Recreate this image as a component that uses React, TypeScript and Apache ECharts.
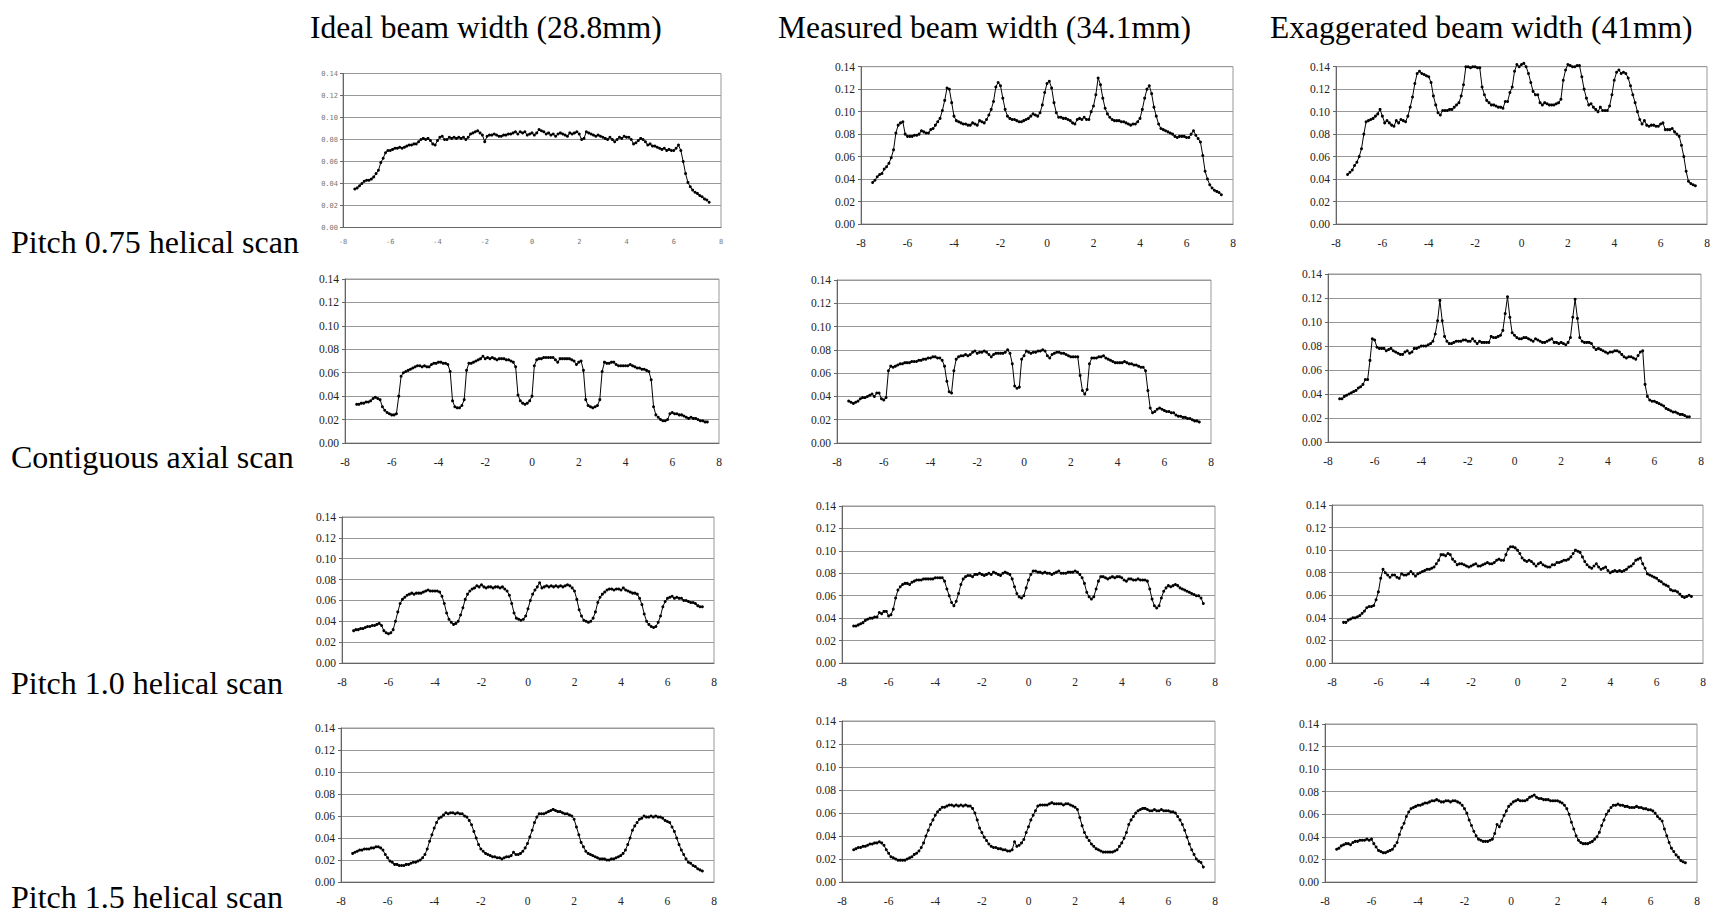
import React, { useEffect, useRef } from "react";
import * as echarts from "echarts";

// sample positions along the z axis (cm)
const XS = [
  -7.5, -7.4, -7.3, -7.2, -7.1, -7, -6.9, -6.8, -6.7, -6.6,
  -6.5, -6.4, -6.3, -6.2, -6.1, -6, -5.9, -5.8, -5.7, -5.6,
  -5.5, -5.4, -5.3, -5.2, -5.1, -5, -4.9, -4.8, -4.7, -4.6,
  -4.5, -4.4, -4.3, -4.2, -4.1, -4, -3.9, -3.8, -3.7, -3.6,
  -3.5, -3.4, -3.3, -3.2, -3.1, -3, -2.9, -2.8, -2.7, -2.6,
  -2.5, -2.4, -2.3, -2.2, -2.1, -2, -1.9, -1.8, -1.7, -1.6,
  -1.5, -1.4, -1.3, -1.2, -1.1, -1, -0.9, -0.8, -0.7, -0.6,
  -0.5, -0.4, -0.3, -0.2, -0.1, 0, 0.1, 0.2, 0.3, 0.4,
  0.5, 0.6, 0.7, 0.8, 0.9, 1, 1.1, 1.2, 1.3, 1.4,
  1.5, 1.6, 1.7, 1.8, 1.9, 2, 2.1, 2.2, 2.3, 2.4,
  2.5, 2.6, 2.7, 2.8, 2.9, 3, 3.1, 3.2, 3.3, 3.4,
  3.5, 3.6, 3.7, 3.8, 3.9, 4, 4.1, 4.2, 4.3, 4.4,
  4.5, 4.6, 4.7, 4.8, 4.9, 5, 5.1, 5.2, 5.3, 5.4,
  5.5, 5.6, 5.7, 5.8, 5.9, 6, 6.1, 6.2, 6.3, 6.4,
  6.5, 6.6, 6.7, 6.8, 6.9, 7, 7.1, 7.2, 7.3, 7.4,
  7.5,
];

const COL_TITLES = [
  "Ideal beam width (28.8mm)",
  "Measured beam width (34.1mm)",
  "Exaggerated beam width (41mm)",
];
const ROW_TITLES = [
  "Pitch 0.75 helical scan",
  "Contiguous axial scan",
  "Pitch 1.0 helical scan",
  "Pitch 1.5 helical scan",
];

// ---- Pitch 0.75 helical ----
const IDEAL_P075 = [
  .035, .036, .038, .040, .042, .043, .043, .044, .046, .049,
  .052, .059, .063, .068, .070, .070, .071, .072, .072, .073,
  .072, .073, .074, .075, .075, .076, .076, .078, .080, .081,
  .080, .081, .079, .076, .075, .079, .082, .083, .080, .080,
  .082, .081, .082, .081, .082, .081, .082, .080, .082, .085,
  .086, .087, .088, .086, .084, .078, .083, .084, .084, .085,
  .084, .083, .083, .084, .084, .085, .085, .086, .087, .085,
  .087, .086, .087, .084, .085, .086, .084, .086, .089, .088,
  .087, .085, .086, .084, .085, .083, .085, .086, .085, .084,
  .083, .086, .085, .086, .087, .085, .080, .081, .087, .086,
  .085, .084, .083, .084, .083, .082, .081, .080, .082, .080,
  .078, .080, .082, .081, .083, .082, .082, .080, .076, .077,
  .079, .081, .080, .078, .075, .076, .074, .074, .073, .072,
  .071, .072, .070, .071, .070, .070, .072, .075, .070, .060,
  .049, .041, .037, .034, .032, .031, .029, .028, .026, .025,
  .023,
];
const MEAS_P075 = [
  .037, .039, .042, .044, .045, .049, .051, .054, .059, .066,
  .081, .088, .090, .091, .080, .078, .078, .078, .079, .079,
  .080, .083, .082, .081, .081, .084, .085, .088, .091, .094,
  .101, .110, .121, .120, .108, .096, .092, .091, .090, .089,
  .089, .088, .088, .090, .089, .088, .092, .091, .090, .093,
  .097, .102, .109, .122, .126, .123, .112, .102, .096, .094,
  .093, .093, .092, .091, .091, .092, .093, .094, .096, .098,
  .097, .096, .099, .106, .117, .125, .127, .121, .108, .099,
  .095, .095, .094, .094, .093, .092, .090, .089, .093, .094,
  .093, .095, .093, .093, .100, .105, .115, .130, .124, .112,
  .103, .098, .095, .093, .092, .092, .092, .091, .091, .090,
  .089, .088, .089, .089, .091, .094, .102, .112, .120, .123,
  .116, .104, .096, .089, .085, .084, .083, .082, .081, .080,
  .078, .077, .078, .078, .078, .077, .077, .080, .083, .079,
  .076, .073, .061, .047, .040, .035, .032, .030, .029, .028,
  .026,
];
const EXAG_P075 = [
  .044, .046, .048, .052, .055, .060, .067, .080, .091, .092,
  .093, .094, .096, .098, .102, .096, .090, .092, .090, .088,
  .087, .092, .090, .093, .092, .091, .096, .104, .113, .125,
  .134, .136, .134, .133, .132, .131, .126, .114, .106, .099,
  .097, .101, .101, .101, .102, .102, .104, .106, .108, .114,
  .124, .140, .140, .139, .140, .140, .139, .139, .122, .115,
  .110, .108, .106, .106, .105, .104, .104, .103, .109, .109,
  .117, .122, .136, .142, .140, .142, .143, .140, .134, .126,
  .118, .115, .115, .108, .106, .108, .107, .106, .106, .106,
  .107, .108, .111, .128, .137, .142, .141, .140, .140, .141,
  .141, .131, .120, .112, .106, .107, .104, .102, .100, .104,
  .101, .101, .101, .105, .115, .128, .135, .137, .134, .135,
  .134, .130, .123, .115, .108, .100, .093, .089, .092, .088,
  .087, .088, .088, .087, .087, .089, .090, .084, .084, .084,
  .085, .082, .080, .078, .070, .060, .047, .038, .036, .035,
  .034,
];

// ---- Contiguous axial ----
const IDEAL_AX = [
  .033, .033, .034, .034, .035, .035, .036, .038, .039, .038,
  .037, .031, .028, .026, .025, .024, .024, .025, .040, .057,
  .060, .061, .062, .063, .064, .065, .066, .066, .065, .066,
  .065, .065, .067, .068, .068, .069, .069, .068, .068, .067,
  .061, .036, .031, .030, .030, .032, .037, .062, .068, .068,
  .069, .070, .071, .072, .074, .072, .073, .072, .073, .072,
  .071, .072, .072, .072, .071, .071, .070, .069, .065, .041,
  .036, .034, .033, .034, .036, .040, .066, .071, .072, .072,
  .073, .073, .073, .073, .073, .071, .069, .072, .072, .072,
  .072, .072, .071, .070, .067, .069, .070, .062, .037, .032,
  .031, .030, .031, .032, .037, .061, .069, .068, .068, .069,
  .069, .067, .066, .066, .066, .066, .066, .067, .066, .065,
  .064, .064, .063, .063, .062, .061, .054, .031, .024, .022,
  .020, .019, .019, .020, .025, .026, .025, .025, .024, .024,
  .023, .022, .021, .022, .021, .021, .020, .019, .019, .018,
  .018,
];
const MEAS_AX = [
  .036, .035, .034, .035, .036, .038, .039, .039, .040, .041,
  .042, .040, .043, .043, .038, .037, .039, .062, .066, .065,
  .066, .067, .068, .068, .069, .069, .069, .070, .070, .070,
  .071, .071, .072, .072, .073, .073, .074, .074, .073, .073,
  .071, .066, .053, .044, .043, .062, .072, .074, .075, .075,
  .076, .075, .076, .078, .079, .077, .078, .078, .079, .078,
  .076, .074, .076, .077, .077, .077, .077, .078, .080, .077,
  .068, .049, .047, .048, .072, .075, .079, .078, .077, .078,
  .078, .079, .079, .080, .079, .075, .073, .076, .077, .078,
  .078, .077, .077, .076, .075, .074, .074, .074, .074, .058,
  .045, .042, .046, .068, .073, .073, .073, .074, .074, .075,
  .073, .072, .071, .070, .069, .069, .069, .069, .070, .069,
  .068, .068, .067, .067, .066, .065, .065, .062, .045, .030,
  .026, .027, .029, .030, .029, .028, .027, .027, .026, .026,
  .024, .023, .023, .022, .022, .021, .021, .020, .019, .019,
  .018,
];
const EXAG_AX = [
  .036, .036, .038, .039, .040, .041, .042, .043, .045, .046,
  .048, .052, .052, .068, .086, .085, .079, .078, .078, .078,
  .076, .077, .078, .076, .075, .074, .073, .073, .075, .076,
  .074, .075, .078, .078, .079, .080, .080, .080, .081, .082,
  .084, .090, .101, .118, .101, .088, .084, .082, .082, .083,
  .084, .084, .084, .085, .085, .084, .084, .086, .084, .082,
  .084, .083, .083, .083, .083, .088, .087, .087, .088, .089,
  .093, .107, .121, .104, .091, .089, .087, .086, .086, .087,
  .087, .086, .085, .084, .086, .085, .084, .083, .083, .084,
  .085, .086, .083, .083, .082, .083, .082, .081, .083, .087,
  .104, .119, .103, .087, .084, .083, .083, .083, .082, .079,
  .077, .078, .077, .076, .075, .074, .075, .075, .076, .076,
  .075, .073, .071, .070, .071, .071, .070, .069, .072, .075,
  .076, .048, .038, .035, .034, .034, .033, .032, .031, .030,
  .028, .027, .026, .025, .025, .024, .023, .023, .022, .021,
  .021,
];

// ---- Pitch 1.0 helical ----
const IDEAL_P10 = [
  .031, .032, .032, .033, .033, .034, .035, .035, .036, .036,
  .037, .038, .036, .031, .029, .028, .029, .032, .040, .049,
  .057, .061, .063, .065, .066, .067, .066, .067, .067, .067,
  .068, .069, .070, .069, .069, .069, .069, .068, .064, .057,
  .048, .042, .039, .037, .038, .040, .046, .053, .061, .066,
  .069, .071, .072, .074, .073, .075, .073, .072, .073, .073,
  .072, .073, .073, .072, .073, .071, .069, .065, .057, .048,
  .043, .042, .041, .042, .045, .052, .060, .066, .070, .073,
  .077, .072, .073, .074, .073, .074, .073, .074, .073, .074,
  .073, .074, .075, .074, .072, .069, .061, .051, .045, .041,
  .040, .039, .040, .043, .049, .058, .063, .066, .068, .070,
  .071, .071, .070, .071, .071, .070, .072, .070, .069, .068,
  .067, .067, .066, .062, .056, .047, .040, .037, .035, .034,
  .035, .039, .045, .054, .059, .062, .063, .064, .062, .063,
  .062, .062, .060, .060, .059, .058, .058, .057, .055, .054,
  .054,
];
const MEAS_P10 = [
  .033, .033, .034, .035, .036, .038, .039, .040, .040, .041,
  .041, .045, .044, .046, .046, .042, .043, .048, .058, .065,
  .068, .070, .071, .071, .070, .072, .073, .074, .074, .074,
  .075, .075, .075, .075, .075, .076, .076, .076, .076, .073,
  .066, .060, .054, .051, .055, .062, .070, .075, .077, .078,
  .078, .077, .079, .079, .080, .079, .078, .079, .080, .079,
  .081, .080, .079, .078, .080, .081, .080, .079, .075, .068,
  .062, .059, .058, .060, .067, .074, .079, .082, .082, .081,
  .081, .080, .081, .080, .080, .079, .080, .081, .082, .080,
  .080, .080, .081, .081, .081, .082, .081, .079, .076, .071,
  .063, .059, .057, .059, .066, .073, .077, .077, .076, .075,
  .076, .077, .076, .077, .077, .076, .074, .073, .075, .075,
  .074, .074, .075, .074, .074, .074, .073, .066, .057, .051,
  .049, .051, .058, .064, .067, .069, .068, .069, .070, .069,
  .067, .066, .065, .064, .063, .062, .061, .060, .060, .058,
  .053,
];
const EXAG_P10 = [
  .036, .036, .038, .039, .040, .040, .041, .042, .044, .046,
  .049, .050, .050, .051, .056, .063, .075, .083, .080, .078,
  .076, .078, .078, .076, .075, .079, .078, .078, .079, .081,
  .079, .077, .079, .080, .081, .082, .083, .083, .084, .085,
  .088, .091, .096, .096, .095, .097, .096, .092, .090, .087,
  .088, .088, .087, .086, .085, .086, .087, .088, .086, .086,
  .087, .088, .089, .088, .088, .089, .091, .092, .091, .091,
  .096, .101, .103, .103, .102, .100, .097, .093, .091, .090,
  .091, .090, .088, .086, .088, .089, .087, .086, .085, .085,
  .087, .087, .089, .089, .090, .091, .091, .092, .094, .097,
  .100, .099, .098, .094, .090, .087, .085, .084, .086, .088,
  .085, .083, .084, .085, .082, .080, .081, .082, .081, .082,
  .081, .082, .083, .085, .086, .088, .091, .092, .093, .088,
  .084, .079, .078, .077, .076, .075, .073, .072, .070, .069,
  .068, .065, .064, .064, .063, .061, .059, .058, .059, .060,
  .059,
];

// ---- Pitch 1.5 helical ----
const IDEAL_P15 = [
  .026, .027, .028, .029, .029, .030, .030, .030, .031, .031,
  .032, .032, .031, .029, .025, .022, .019, .018, .016, .016,
  .015, .015, .015, .016, .016, .017, .018, .018, .019, .020,
  .022, .025, .030, .037, .043, .049, .054, .058, .059, .061,
  .063, .062, .063, .063, .062, .063, .062, .062, .060, .059,
  .056, .052, .046, .040, .034, .030, .028, .026, .025, .024,
  .023, .023, .022, .022, .021, .022, .023, .023, .024, .027,
  .025, .025, .026, .028, .031, .035, .041, .047, .054, .059,
  .062, .062, .062, .063, .064, .065, .066, .065, .064, .064,
  .063, .062, .062, .061, .060, .057, .050, .043, .036, .032,
  .028, .026, .025, .024, .023, .022, .021, .021, .021, .020,
  .020, .021, .021, .022, .023, .024, .026, .029, .034, .040,
  .047, .051, .054, .057, .058, .060, .059, .059, .060, .059,
  .060, .059, .059, .058, .056, .055, .054, .050, .046, .040,
  .034, .029, .025, .021, .018, .017, .015, .014, .012, .011,
  .010,
];
const MEAS_P15 = [
  .028, .029, .030, .030, .031, .031, .032, .033, .033, .034,
  .034, .035, .034, .032, .028, .025, .022, .021, .020, .019,
  .019, .019, .019, .020, .021, .022, .024, .025, .027, .030,
  .034, .040, .045, .050, .054, .058, .061, .063, .065, .065,
  .066, .067, .067, .066, .067, .066, .067, .066, .067, .066,
  .066, .064, .060, .054, .047, .043, .039, .036, .033, .031,
  .030, .030, .029, .029, .028, .028, .027, .027, .028, .035,
  .031, .032, .034, .037, .043, .048, .054, .058, .062, .066,
  .067, .067, .067, .067, .068, .069, .068, .068, .068, .068,
  .067, .068, .068, .067, .066, .065, .063, .056, .049, .043,
  .039, .036, .033, .031, .029, .028, .027, .026, .026, .026,
  .026, .026, .027, .028, .031, .034, .038, .043, .050, .054,
  .057, .060, .062, .063, .064, .064, .063, .062, .062, .063,
  .062, .062, .063, .062, .062, .062, .061, .061, .060, .057,
  .054, .050, .045, .039, .033, .028, .024, .020, .018, .017,
  .013,
];
const EXAG_P15 = [
  .029, .030, .032, .033, .034, .034, .033, .035, .036, .036,
  .037, .037, .037, .038, .037, .038, .034, .031, .028, .027,
  .026, .026, .027, .028, .029, .032, .035, .042, .048, .052,
  .058, .062, .065, .066, .067, .068, .068, .069, .070, .070,
  .071, .072, .072, .073, .072, .071, .071, .072, .072, .071,
  .072, .072, .071, .070, .068, .065, .061, .055, .050, .045,
  .041, .038, .037, .036, .036, .036, .037, .038, .043, .051,
  .049, .054, .059, .063, .067, .069, .071, .072, .073, .072,
  .072, .072, .073, .075, .076, .077, .075, .074, .074, .073,
  .073, .073, .072, .072, .072, .072, .071, .070, .068, .065,
  .060, .053, .047, .041, .037, .035, .034, .034, .034, .035,
  .036, .038, .040, .044, .050, .055, .060, .063, .066, .068,
  .068, .069, .068, .068, .067, .067, .066, .066, .066, .067,
  .066, .066, .065, .065, .064, .064, .063, .061, .058, .056,
  .054, .047, .041, .035, .030, .027, .024, .022, .019, .018,
  .017,
];

const SERIES_BY_ROW = [
  [IDEAL_P075, MEAS_P075, EXAG_P075],
  [IDEAL_AX, MEAS_AX, EXAG_AX],
  [IDEAL_P10, MEAS_P10, EXAG_P10],
  [IDEAL_P15, MEAS_P15, EXAG_P15],
];

// plot-area layout [left, top, width, height] in px, per row then column
const LAYOUT = [
  [[343, 73.5, 378, 154], [861, 66.7, 372, 157.3], [1336, 66.7, 371, 157.3]],
  [[345, 279, 374, 164], [837, 280, 374, 163], [1328, 274, 373, 168]],
  [[342, 517, 372, 146], [842, 506, 373, 157], [1332, 505, 371, 158]],
  [[341, 728, 373, 154], [842, 721, 373, 161], [1325, 724, 372, 158]],
];
const TITLE_X = [310, 778, 1270];
const TITLE_Y = 27;
const ROW_Y = [242, 457, 683, 897];

const SERIF = "'Times New Roman', 'Liberation Serif', serif";

export default function App() {
  const ref = useRef<HTMLDivElement>(null);

  useEffect(() => {
    if (!ref.current) return;
    const chart = echarts.init(ref.current, null, { renderer: "svg" });

    const grid: any[] = [];
    const xAxis: any[] = [];
    const yAxis: any[] = [];
    const series: any[] = [];

    let idx = 0;
    for (let r = 0; r < 4; r++) {
      for (let c = 0; c < 3; c++) {
        const [left, top, width, height] = LAYOUT[r][c];
        const small = r === 0 && c === 0;
        const labelFont = small
          ? { fontSize: 7, color: "#777", fontFamily: "'DejaVu Sans Mono', monospace" }
          : { fontSize: 11.5, color: "#222", fontFamily: SERIF };
        grid.push({
          left, top, width, height,
          show: true,
          borderColor: "#999",
          borderWidth: 1,
          backgroundColor: "transparent",
          containLabel: false,
          outerBoundsMode: "none",
        });
        xAxis.push({
          type: "value",
          gridIndex: idx,
          min: -8,
          max: 8,
          interval: 2,
          axisLine: { show: true, onZero: false, lineStyle: { color: "#666", width: 1 } },
          axisTick: { show: false },
          splitLine: { show: false },
          axisLabel: { margin: small ? 11 : 13, ...labelFont },
        });
        yAxis.push({
          type: "value",
          gridIndex: idx,
          min: 0,
          max: 0.14,
          interval: 0.02,
          axisLine: { show: true, onZero: false, lineStyle: { color: "#666", width: 1 } },
          axisTick: { show: true, length: 3, lineStyle: { color: "#666" } },
          splitLine: { show: true, lineStyle: { color: "#999", width: 1 } },
          axisLabel: {
            margin: small ? 5 : 6,
            formatter: (v: number) => v.toFixed(2),
            ...labelFont,
          },
        });
        const ys = SERIES_BY_ROW[r][c];
        series.push({
          type: "line",
          name: `${ROW_TITLES[r]} / ${COL_TITLES[c]}`,
          xAxisIndex: idx,
          yAxisIndex: idx,
          data: XS.map((x, k) => [x, ys[k]]),
          symbol: "circle",
          symbolSize: 3,
          showSymbol: true,
          showAllSymbol: true,
          clip: false,
          silent: true,
          lineStyle: { color: "#000", width: 1 },
          itemStyle: { color: "#000" },
        });
        idx++;
      }
    }

    const graphic: any[] = [];
    COL_TITLES.forEach((t, c) => {
      graphic.push({
        type: "text",
        x: TITLE_X[c],
        y: TITLE_Y,
        style: {
          text: t,
          fontSize: 31.5,
          fontFamily: SERIF,
          fill: "#000",
          textVerticalAlign: "middle",
          textAlign: "left",
        },
      });
    });
    ROW_TITLES.forEach((t, r) => {
      graphic.push({
        type: "text",
        x: 11,
        y: ROW_Y[r],
        style: {
          text: t,
          fontSize: 32,
          fontFamily: SERIF,
          fill: "#000",
          textVerticalAlign: "middle",
          textAlign: "left",
        },
      });
    });

    chart.setOption({
      animation: false,
      backgroundColor: "#fff",
      grid,
      xAxis,
      yAxis,
      series,
      graphic,
    });

    return () => chart.dispose();
  }, []);

  return (
    <div
      ref={ref}
      style={{ position: "fixed", left: 0, top: 0, width: 1717, height: 917, background: "#fff" }}
    />
  );
}
